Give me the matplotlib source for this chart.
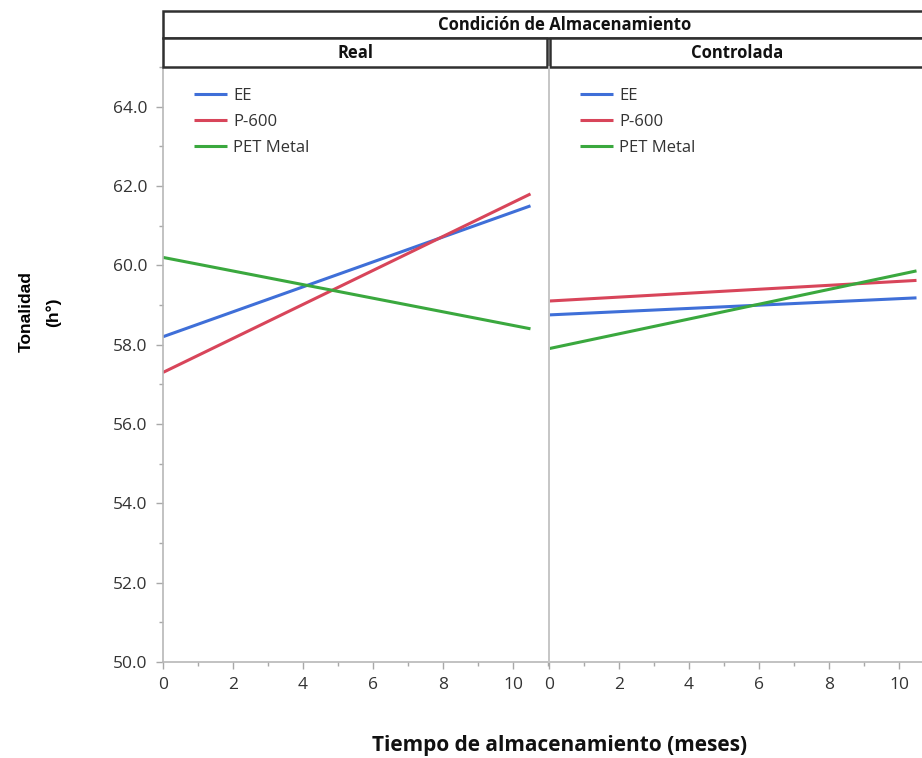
import matplotlib.pyplot as plt
from matplotlib.patches import Rectangle
from matplotlib.ticker import MultipleLocator

# mean hue (h°) at start and end of storage, per packaging
months = [0, 10.5]
conditions = ["Real", "Controlada"]
materials = ["EE", "P-600", "PET Metal"]
hue = {
    "Real": {
        "EE": [58.2, 61.5],
        "P-600": [57.3, 61.8],
        "PET Metal": [60.2, 58.4],
    },
    "Controlada": {
        "EE": [58.75, 59.18],
        "P-600": [59.1, 59.62],
        "PET Metal": [57.9, 59.86],
    },
}
colors = {"EE": "#3f6fd8", "P-600": "#d8455a", "PET Metal": "#3aa83e"}

plt.rcParams['font.family'] = ['Open Sans', 'DejaVu Sans']

W, H = 922, 758
fig = plt.figure(figsize=(W / 100, H / 100), dpi=100)

def fx(px):
    return px / W

def fy(py):
    return 1 - py / H

panel_w = 386
bottom, top = 662, 67
axes = []
for i, cond in enumerate(conditions):
    x0 = 163 + i * panel_w
    ax = fig.add_axes([fx(x0), fy(bottom), fx(panel_w), fy(top) - fy(bottom)])
    for m in materials:
        ax.plot(months, hue[cond][m], color=colors[m], lw=2.2, label=m,
                solid_capstyle='butt')
    ax.set_xlim(0, panel_w / 35.0)
    ax.set_ylim(50, 65)
    ax.xaxis.set_major_locator(MultipleLocator(2))
    ax.xaxis.set_minor_locator(MultipleLocator(1))
    ax.yaxis.set_major_locator(MultipleLocator(2))
    ax.yaxis.set_minor_locator(MultipleLocator(1))
    ax.yaxis.set_major_formatter(lambda v, p: f"{v:.1f}")
    for s in ["top", "right"]:
        ax.spines[s].set_visible(False)
    for s in ["left", "bottom"]:
        ax.spines[s].set_color("#b8b8b8")
        ax.spines[s].set_linewidth(1.2)
    ax.tick_params(which='major', direction='out', length=5, width=1,
                   color="#a8a8a8", labelsize=12.5, labelcolor="#333333", pad=6)
    ax.tick_params(which='minor', direction='out', length=3, width=1,
                   color="#a8a8a8")
    if i > 0:
        ax.tick_params(axis='y', which='both', left=False, labelleft=False)
    leg = ax.legend(loc='upper left', bbox_to_anchor=(0.05, 0.985), frameon=False,
                    fontsize=12, handlelength=2.0, handletextpad=0.35,
                    labelspacing=0.62, borderaxespad=0.3)
    for t in leg.get_texts():
        t.set_color("#333333")
    axes.append(ax)

# facet strips
def strip(x0, y0, x1, y1):
    fig.patches.append(Rectangle((fx(x0), fy(y1)), fx(x1 - x0), fy(y0) - fy(y1),
                                 transform=fig.transFigure, facecolor='white',
                                 edgecolor='#303030', lw=1.8))

strip(163, 11, 1000, 38)
fig.text(fx(565), fy(24.5), "Condición de Almacenamiento", ha='center',
         va='center', fontsize=12, fontweight='bold', color='#111111')
strip(163, 38, 547, 67)
fig.text(fx(163 + 384 / 2), fy(52.5), conditions[0], ha='center', va='center',
         fontsize=12, fontweight='bold', color='#111111')
strip(550, 38, 1000, 67)
fig.text(fx(737), fy(52.5), conditions[1], ha='center', va='center',
         fontsize=12, fontweight='bold', color='#111111')

# panel divider
fig.add_artist(plt.Line2D([fx(549), fx(549)], [fy(662), fy(67)],
                          transform=fig.transFigure, color='#c8c8c8', lw=1.2))

fig.text(fx(40), fy(312), "Tonalidad\n(h°)", rotation=90, ha='center',
         va='center', fontsize=12.5, fontweight='bold', family='Liberation Sans',
         linespacing=2.0)
fig.text(fx(560), fy(745), "Tiempo de almacenamiento (meses)", ha='center',
         va='center', fontsize=15, fontweight='bold', color='#111111')

fig.savefig("out.png", dpi=100)
